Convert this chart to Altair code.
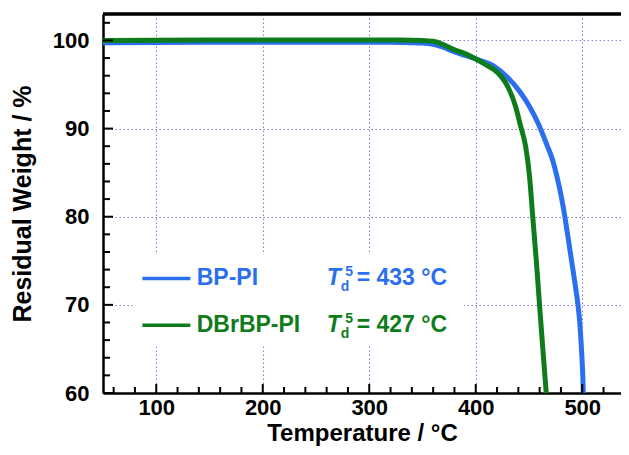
import altair as alt
import pandas as pd

# ---- data ----
bp_T = [50, 150, 250, 320, 338, 350, 360, 370, 379, 390, 400, 417, 430, 442, 451,
        459, 467, 472, 476, 480, 483, 486.5, 490, 493, 496, 498, 499.5, 500.5, 501]
bp_W = [99.75, 99.8, 99.8, 99.8, 99.75, 99.7, 99.55, 99.2, 98.75, 98.3, 97.9, 97.1, 95.8,
        94.1, 92.4, 90.5, 88.1, 86.5, 84.7, 82.5, 80.5, 77.8, 75.0, 72.6, 70.0, 67.5,
        64.5, 62.0, 60.0]

dbr_T = [50, 150, 250, 330, 350, 360, 370, 379, 390, 400, 410, 417, 424, 430, 437.4,
         442.1, 446.8, 450.5, 453.6, 457, 459.9, 463, 466.2]
dbr_W = [100.0, 100.05, 100.05, 100.05, 100.0, 99.9, 99.5, 99.0, 98.5, 97.9, 97.2, 96.7,
         95.9, 94.8, 92.5, 90.3, 88.0, 84.6, 79.9, 74.8, 70.0, 65.0, 60.0]

series_names = ["BP-PI", "DBrBP-PI"]
series_colors = ["#2b6ff0", "#0e7c1a"]
td_values = ["433", "427"]

x_tick_labels = [100, 200, 300, 400, 500]
y_tick_labels = [60, 70, 80, 90, 100]
x_minor = [60, 80, 120, 140, 160, 180, 220, 240, 260, 280, 320, 340, 360, 380,
           420, 440, 460, 480, 520]
y_minor = [62, 64, 66, 68, 72, 74, 76, 78, 82, 84, 86, 88, 92, 94, 96, 98, 102]

# legend placement (data units)
legend_rows_W = [73.0, 67.7]
legend_line_T = [87, 132]
legend_text_T = 138
legend_td_T = 260
legend_box = {"t1": 78, "t2": 389, "w1": 65.3, "w2": 75.7}

X_DOMAIN = [50, 536.4]
Y_DOMAIN = [60, 103]
W, H = 518, 379
FONT = "Liberation Sans"

df = pd.DataFrame(
    {"T": bp_T + dbr_T,
     "W": bp_W + dbr_W,
     "s": [series_names[0]] * len(bp_T) + [series_names[1]] * len(dbr_T),
     "o": [0] * len(bp_T) + [1] * len(dbr_T)}
)

x_axis = alt.Axis(values=x_tick_labels, title="Temperature / °C", grid=True,
                  ticks=False, tickSize=0, labelPadding=4, titleFontSize=24,
                  titleY=47, titleBaseline="alphabetic")
y_axis = alt.Axis(values=y_tick_labels, title="Residual Weight / %", grid=True,
                  ticks=False, tickSize=0, labelPadding=14, titlePadding=17)


def xs(field="T"):
    return alt.X(f"{field}:Q", scale=alt.Scale(domain=X_DOMAIN, nice=False, zero=False),
                 axis=x_axis)


def ys(field="W"):
    return alt.Y(f"{field}:Q", scale=alt.Scale(domain=Y_DOMAIN, nice=False, zero=False),
                 axis=y_axis)


color = alt.Color("s:N", scale=alt.Scale(domain=series_names, range=series_colors), legend=None)

lines = alt.Chart(df).mark_line(strokeWidth=5, interpolate="monotone").encode(
    x=xs("T"), y=ys("W"), color=color, detail="s:N", order="o:Q"
)

box_df = pd.DataFrame([legend_box])
box = alt.Chart(box_df).mark_rect(color="white").encode(
    x=xs("t1"), x2="t2", y=ys("w1"), y2="w2"
)

leg_df = pd.DataFrame({
    "s": series_names,
    "w": legend_rows_W,
    "t1": [legend_line_T[0]] * 2,
    "t2": [legend_line_T[1]] * 2,
    "tt": [legend_text_T] * 2,
    "td": [legend_td_T] * 2,
    "rest": [f"= {v} °C" for v in td_values],
})
leg_lines = alt.Chart(leg_df).mark_rule(strokeWidth=3.5).encode(
    x=xs("t1"), x2="t2", y=ys("w"), color=color
)
leg_names = alt.Chart(leg_df).mark_text(align="left", baseline="middle", font=FONT,
                                         fontSize=23, fontWeight="bold").encode(
    x=xs("tt"), y=ys("w"), text="s:N", color=color
)
td_T = alt.Chart(leg_df).mark_text(align="left", baseline="middle", font=FONT,
                                   fontSize=23, fontWeight="bold", fontStyle="italic").encode(
    x=xs("td"), y=ys("w"), text=alt.value("T"), color=color
)
td_d = alt.Chart(leg_df).mark_text(align="left", baseline="middle", font=FONT,
                                   fontSize=14, fontWeight="bold", dx=14, dy=8.5).encode(
    x=xs("td"), y=ys("w"), text=alt.value("d"), color=color
)
td_5 = alt.Chart(leg_df).mark_text(align="left", baseline="middle", font=FONT,
                                   fontSize=14, fontWeight="bold", dx=18.5, dy=-6.5).encode(
    x=xs("td"), y=ys("w"), text=alt.value("5"), color=color
)
td_rest = alt.Chart(leg_df).mark_text(align="left", baseline="middle", font=FONT,
                                      fontSize=23, fontWeight="bold", dx=30).encode(
    x=xs("td"), y=ys("w"), text="rest:N", color=color
)

# inward ticks
xmaj_df = pd.DataFrame({"t": x_tick_labels})
xmin_df = pd.DataFrame({"t": x_minor})
ymaj_df = pd.DataFrame({"w": y_tick_labels})
ymin_df = pd.DataFrame({"w": y_minor})
xmaj = alt.Chart(xmaj_df).mark_rule(strokeWidth=2, color="black").encode(
    x=xs("t"), y=alt.value(H), y2=alt.value(H - 9))
xmin = alt.Chart(xmin_df).mark_rule(strokeWidth=2, color="black").encode(
    x=xs("t"), y=alt.value(H), y2=alt.value(H - 6))
ymaj = alt.Chart(ymaj_df).mark_rule(strokeWidth=2, color="black").encode(
    y=ys("w"), x=alt.value(0), x2=alt.value(10))
ymin = alt.Chart(ymin_df).mark_rule(strokeWidth=2, color="black").encode(
    y=ys("w"), x=alt.value(0), x2=alt.value(7))
top_border = alt.Chart(xmaj_df).mark_rule(strokeWidth=2.5, color="black").encode(
    x=alt.value(0), x2=alt.value(W), y=alt.value(0))

chart = alt.layer(
    lines, box, leg_lines, leg_names, td_T, td_d, td_5, td_rest,
    xmaj, xmin, ymaj, ymin, top_border
).properties(
    width=W, height=H,
    autosize=alt.AutoSizeParams(type="none"),
    padding={"left": 95, "top": 6, "right": 0, "bottom": 54},
).configure_view(stroke=None).configure_axis(
    labelFont=FONT, labelFontSize=22, labelFontWeight="bold", labelColor="black",
    titleFont=FONT, titleFontSize=25, titleFontWeight="bold", titleColor="black",
    domainColor="black", domainWidth=2.5,
    gridColor="#7f7fe0", gridDash=[1.5, 2.5], gridWidth=1, gridOpacity=1,
)

chart.save("out.html", embed_options={"renderer": "svg", "actions": False})
